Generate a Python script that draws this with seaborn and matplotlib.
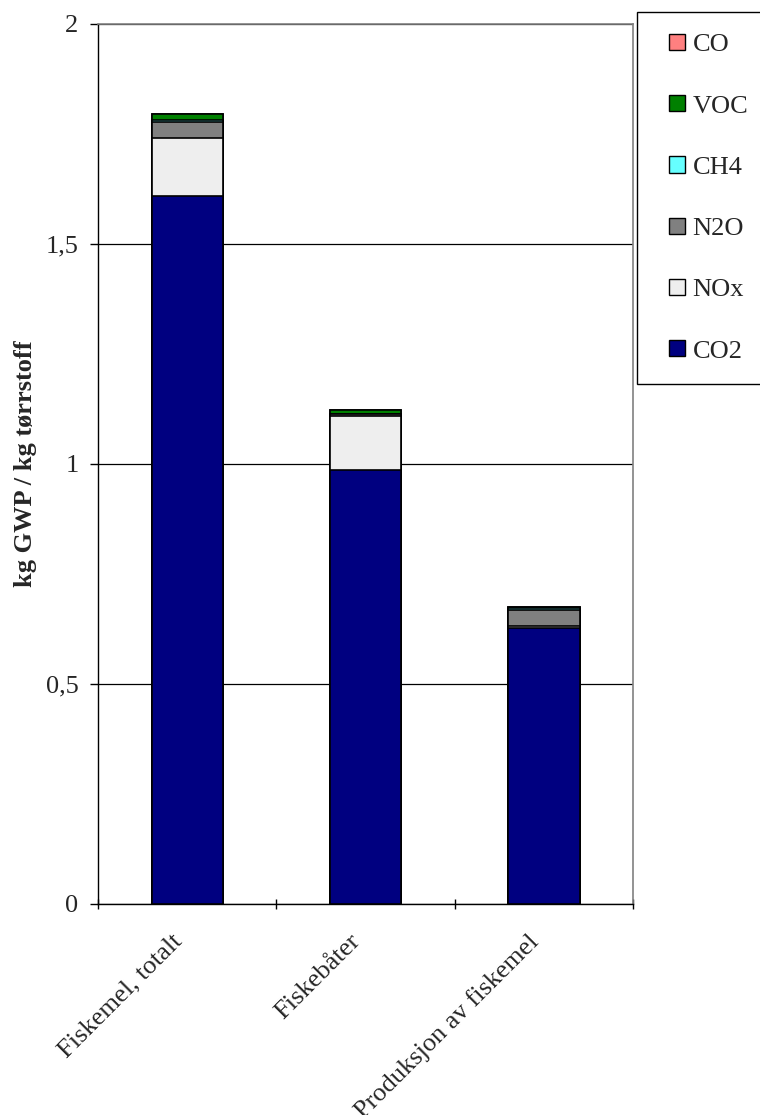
import pandas as pd
import numpy as np
import matplotlib
matplotlib.use("Agg")
import matplotlib.pyplot as plt
import matplotlib.transforms as mtransforms
import seaborn as sns
from matplotlib.ticker import FuncFormatter, FixedLocator
from matplotlib.legend_handler import HandlerPatch

# categories and emission components (kg GWP / kg dry matter)
categories = ["Fiskemel, totalt", "Fiskebåter", "Produksjon av fiskemel"]
co2 = [1.609, 0.987, 0.627]
nox = [0.132, 0.123, 0.004]
n2o = [0.036, 0.003, 0.038]
ch4 = [0.004, 0.001, 0.004]
voc = [0.014, 0.008, 0.001]
co = [0.001, 0.001, 0.001]

components = ["CO2", "NOx", "N2O", "CH4", "VOC", "CO"]
colors = ["#000080", "#EEEEEE", "#808080", "#66FFFF", "#008000", "#FF8080"]

df = pd.DataFrame({"kategori": categories, "CO2": co2, "NOx": nox, "N2O": n2o,
                   "CH4": ch4, "VOC": voc, "CO": co})

sns.set_theme(style="white")
plt.rcParams['font.family'] = ['Liberation Serif', 'DejaVu Serif']
FS = 19

fig = plt.figure(figsize=(7.6, 11.15), dpi=100)
ax = fig.add_axes([98/760, 1 - 904/1115, 535/760, 880/1115])

# stacked bars: draw cumulative totals from the top layer down
cum = df[components].cumsum(axis=1)
handles = {}
for comp, col in reversed(list(zip(components, colors))):
    sns.barplot(x=df["kategori"], y=cum[comp], color=col, width=0.4,
                edgecolor="black", linewidth=1.2, saturation=1, ax=ax, zorder=3)
    handles[comp] = plt.Rectangle((0, 0), 1, 1, facecolor=col, edgecolor="black", linewidth=1)

ax.set_ylim(0, 2)
ax.set_xlim(-0.5, 2.5)
ax.set_yticks([0, 0.5, 1, 1.5, 2])
ax.yaxis.set_major_formatter(FuncFormatter(lambda v, p: f"{v:g}".replace(".", ",")))
ax.grid(axis="y", color="black", linewidth=0.9, zorder=0)
ax.set_axisbelow(True)

for s in ["top", "right"]:
    ax.spines[s].set_color("#808080")
    ax.spines[s].set_linewidth(1.2)
for s in ["left", "bottom"]:
    ax.spines[s].set_color("black")
    ax.spines[s].set_linewidth(1.0)

ax.tick_params(axis="y", which="major", left=True, length=6, width=1, color="black",
               labelsize=FS, pad=8)
ax.xaxis.set_minor_locator(FixedLocator([-0.5, 0.5, 1.5, 2.5]))
ax.tick_params(axis="x", which="minor", bottom=True, length=7, width=1, color="black",
               direction="inout")
ax.tick_params(axis="x", which="major", length=0, labelsize=FS, pad=29)
shift = mtransforms.ScaledTranslation(-0.09, 0.06, fig.dpi_scale_trans)
for lbl in ax.get_xticklabels():
    lbl.set_rotation(45)
    lbl.set_ha("right")
    lbl.set_va("center")
    lbl.set_rotation_mode("anchor")
    lbl.set_transform(lbl.get_transform() + shift)

ax.set_xlabel("")
ax.set_ylabel("kg GWP / kg tørrstoff", fontsize=FS, fontweight="bold", labelpad=6)


def square_right(legend, orig_handle, xdescent, ydescent, width, height, fontsize):
    # square swatch sitting at the right end of the handle box
    return plt.Rectangle((width - height - xdescent, -ydescent), height, height)


leg_order = ["CO", "VOC", "CH4", "N2O", "NOx", "CO2"]
leg = fig.legend([handles[c] for c in leg_order], leg_order, loc="upper left",
                 bbox_to_anchor=(637/760, 1 - 12/1115), fontsize=FS, frameon=True,
                 fancybox=False, edgecolor="black", framealpha=1,
                 handlelength=1.0, handleheight=0.57, handletextpad=0.27,
                 labelspacing=1.47, borderpad=0.83, borderaxespad=0,
                 handler_map={plt.Rectangle: HandlerPatch(patch_func=square_right)})
leg.get_frame().set_linewidth(1.0)

fig.savefig("out.png", dpi=100)
